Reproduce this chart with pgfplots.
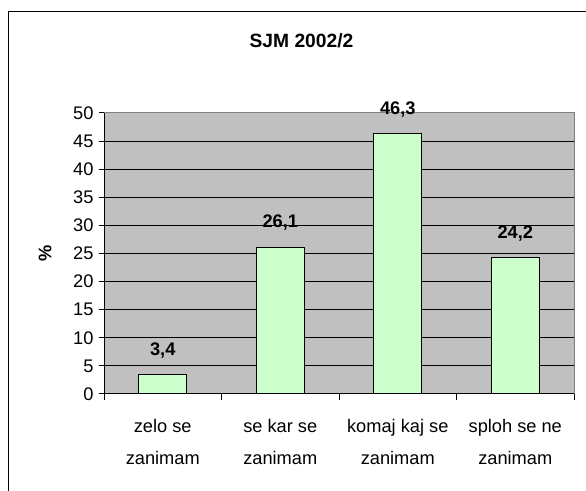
\documentclass[border=0pt]{standalone}
\usepackage{pgfplots}
\pgfplotsset{compat=1.18}
\usepackage{fontspec}
\setmainfont{Liberation Sans}
\definecolor{plotgray}{HTML}{C0C0C0}
\definecolor{barfill}{HTML}{CCFFCC}
\definecolor{bordergray}{HTML}{808080}
\begin{document}
\begin{tikzpicture}[x=1bp,y=1bp]
\useasboundingbox (0,0) rectangle (586,491);
\begin{scope}
\clip (0,0) rectangle (586,491);
\draw[line width=1.4bp] (8.7,-10) -- (8.7,479.5) -- (600,479.5);
\end{scope}
\node[font=\fontsize{19.3}{23}\selectfont\bfseries] at (301.5,450.5) {SJM 2002/2};
\begin{axis}[
  at={(104bp,97bp)}, anchor=south west,
  width=470bp, height=281bp, scale only axis,
  xmin=-0.5, xmax=3.5, ymin=0, ymax=50,
  axis x line*=bottom, axis y line*=left,
  axis line style={black, line width=1bp, -},
  axis background/.style={fill=plotgray},
  ytick={0,5,...,50},
  xtick={0,1,2,3},
  xticklabels={{zelo se\\zanimam},{se kar se\\zanimam},{komaj kaj se\\zanimam},{sploh se ne\\zanimam}},
  minor xtick={-0.5,0.5,1.5,2.5,3.5},
  xtick style={draw=none},
  minor x tick style={draw=black, line width=1bp},
  ytick style={draw=black, line width=1bp},
  tick align=outside,
  major tick length=5bp,
  minor tick length=6bp,
  ymajorgrids,
  grid style={black, line width=1bp},
  /pgf/number format/assume math mode=true,
  every tick label/.append style={font=\fontsize{18.3}{22}\selectfont},
  xticklabel style={align=center, font=\fontsize{18.3}{31.5}\selectfont, yshift=-17bp},
  yticklabel style={xshift=-2bp},
  ylabel={\%},
  every axis y label/.style={at={(rel axis cs:0,0.5)}, xshift=-59bp, rotate=90, anchor=center, font=\fontsize{18.3}{22}\selectfont\bfseries},
  ybar, bar width=48bp,
  nodes near coords,
  nodes near coords style={anchor=base, yshift=19.5bp, font=\fontsize{18.3}{22}\selectfont\bfseries,
    /pgf/number format/.cd, fixed, fixed zerofill, precision=1, use comma},
  clip=false,
]
\addplot[fill=barfill, draw=black, line width=1bp] coordinates {(0,3.4) (1,26.1) (2,46.3) (3,24.2)};
\draw[bordergray, line width=1bp] (rel axis cs:0,1) -- (rel axis cs:1,1) -- (rel axis cs:1,0);
\end{axis}
\end{tikzpicture}
\end{document}
